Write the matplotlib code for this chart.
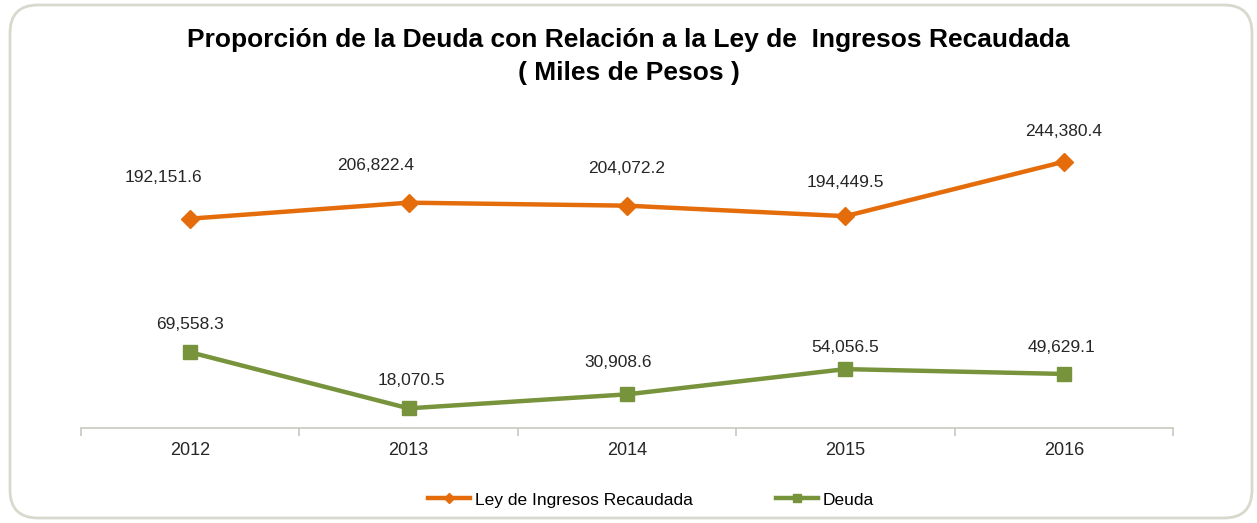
import matplotlib.pyplot as plt
from matplotlib.patches import FancyBboxPatch

plt.rcParams['font.family'] = ['Liberation Sans', 'DejaVu Sans']

# datos (miles de pesos)
anios = ['2012', '2013', '2014', '2015', '2016']
ley_ingresos = [192151.6, 206822.4, 204072.2, 194449.5, 244380.4]
deuda = [69558.3, 18070.5, 30908.6, 54056.5, 49629.1]

naranja = '#E46C0A'
verde = '#77933C'

fig = plt.figure(figsize=(12.57, 5.23), dpi=100)
ax = fig.add_axes([0.0644, 0.1816, 0.8688, 0.625])

# marco redondeado (en pixeles)
marco = FancyBboxPatch((10, 5), 1242, 513, boxstyle='round,pad=0,rounding_size=28',
                       transform=None, fill=False, edgecolor='#D8D8CC', linewidth=2)
fig.patches.append(marco)

x = list(range(len(anios)))
ax.plot(x, ley_ingresos, color=naranja, lw=3.2, marker='D', ms=9, label='Ley de Ingresos Recaudada')
ax.plot(x, deuda, color=verde, lw=3.2, marker='s', ms=10, label='Deuda')

# desplazamiento de etiquetas (pixeles)
off_ley = [(-27, 41), (-33, 37), (0, 37), (0, 34), (0, 30)]
off_deuda = [(0, 28), (3, 28), (-9, 32), (0, 22), (-2, 26)]
for i in x:
    ax.annotate(f'{ley_ingresos[i]:,.1f}', (x[i], ley_ingresos[i]), xytext=off_ley[i],
                textcoords='offset pixels', ha='center', va='center', fontsize=12.5, color='#262626')
    ax.annotate(f'{deuda[i]:,.1f}', (x[i], deuda[i]), xytext=off_deuda[i],
                textcoords='offset pixels', ha='center', va='center', fontsize=12.5, color='#262626')

ax.set_xlim(-0.5, len(anios) - 0.5)
ax.set_ylim(0, 300000)
ax.set_xticks(x)
ax.set_xticklabels(anios, fontsize=13, color='#262626')
ax.tick_params(axis='x', length=0, pad=10)
ax.set_xticks([i - 0.5 for i in range(len(anios) + 1)], minor=True)
ax.tick_params(axis='x', which='minor', length=6, color='#C8C8BC', width=1.2)
ax.set_yticks([])
for s in ['top', 'right', 'left']:
    ax.spines[s].set_visible(False)
ax.spines['bottom'].set_color('#C8C8BC')
ax.spines['bottom'].set_linewidth(1.2)

fig.text(0.5, 0.910, 'Proporción de la Deuda con Relación a la Ley de  Ingresos Recaudada',
         ha='center', va='baseline', fontsize=19, fontweight='bold')
fig.text(0.5, 0.847, '( Miles de Pesos )', ha='center', va='baseline', fontsize=19, fontweight='bold')

fig.legend(loc='center', bbox_to_anchor=(0.518, 0.044), ncol=2, frameon=False, fontsize=12.5,
           columnspacing=4.8, handlelength=2.4, handletextpad=0.3, markerscale=0.6)

fig.savefig('out.png', dpi=100)
